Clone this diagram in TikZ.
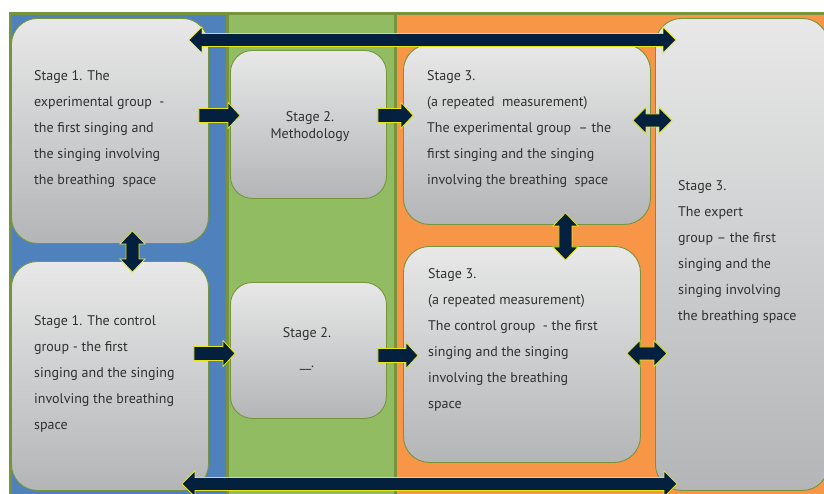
\documentclass[tikz,border=0pt]{standalone}
\usepackage{fontspec}
\setmainfont{PT Sans}
\usetikzlibrary{calc}
\definecolor{colblue}{HTML}{4F81BD}
\definecolor{colgreen}{HTML}{92BC62}
\definecolor{colorange}{HTML}{F79646}
\definecolor{frame}{HTML}{77933C}
\definecolor{boxtop}{HTML}{E8E8E8}
\definecolor{boxbot}{HTML}{B3B5B7}
\definecolor{navy}{HTML}{04203F}
\definecolor{rim}{HTML}{E6E619}
\definecolor{ink}{HTML}{303030}
\tikzset{
  box/.style={rounded corners=26pt, draw=frame, line width=0.9pt,
    top color=boxtop, bottom color=boxbot, anchor=north west, inner sep=0pt},
  txt/.style={text=ink, font=\fontsize{14}{26}\selectfont, align=left, inner sep=0pt},
  blk/.style={fill=navy, draw=rim, line width=0.8pt, line join=miter},
  harr/.style={blk, to path={let \p1=(\tikztostart), \p2=(\tikztotarget) in
    (\x1,\y1) -- (\x1+13pt,\y1+13pt) -- (\x1+13pt,\y1+6.5pt) -- (\x2-13pt,\y1+6.5pt)
    -- (\x2-13pt,\y1+13pt) -- (\x2,\y1) -- (\x2-13pt,\y1-13pt) -- (\x2-13pt,\y1-6.5pt)
    -- (\x1+13pt,\y1-6.5pt) -- (\x1+13pt,\y1-13pt) -- cycle}},
  varr/.style={blk, to path={let \p1=(\tikztostart), \p2=(\tikztotarget) in
    (\x1,\y1) -- (\x1+12.5pt,\y1-13pt) -- (\x1+6.5pt,\y1-13pt) -- (\x1+6.5pt,\y2+13pt)
    -- (\x1+12.5pt,\y2+13pt) -- (\x1,\y2) -- (\x1-12.5pt,\y2+13pt) -- (\x1-6.5pt,\y2+13pt)
    -- (\x1-6.5pt,\y1-13pt) -- (\x1-12.5pt,\y1-13pt) -- cycle}},
  rarr/.style={blk, to path={let \p1=(\tikztostart), \p2=(\tikztotarget) in
    (\x1,\y1+7pt) -- (\x2-12pt,\y1+7pt) -- (\x2-12pt,\y1+13pt) -- (\x2,\y1)
    -- (\x2-12pt,\y1-13pt) -- (\x2-12pt,\y1-7pt) -- (\x1,\y1-7pt) -- cycle}}
}
\begin{document}
\begin{tikzpicture}[x=1pt,y=-1pt]
\useasboundingbox (0,0) rectangle (824,493);
% column backgrounds
\fill[white] (0,0) rectangle (824,493);
\fill[colblue] (10,13.5) rectangle (227.5,500);
\fill[colgreen] (227.5,13.5) rectangle (395.5,500);
\fill[colorange] (395.5,13.5) rectangle (840,500);
\draw[frame, line width=3pt] (10,500) -- (10,13.5) -- (840,13.5);
\draw[frame, line width=2.5pt] (227.5,13.5) -- (227.5,500);
\draw[frame, line width=3pt] (395.5,13.5) -- (395.5,500);

% stage boxes
\node[box, minimum width=197pt, minimum height=225pt] (A) at (11,18) {};
\node[box, minimum width=197pt, minimum height=229pt] (B) at (11,261) {};
\node[box, minimum width=156pt, minimum height=148pt, rounded corners=22pt] (C) at (230,50) {};
\node[box, minimum width=156pt, minimum height=136pt, rounded corners=22pt] (D) at (230,282) {};
\node[box, minimum width=247pt, minimum height=180pt] (E) at (403,44) {};
\node[box, minimum width=237pt, minimum height=216pt] (F) at (403,246) {};
\node[box, minimum width=173pt, minimum height=472pt] (G) at (655,18) {};

% box texts
\node[txt, anchor=west] (At) at (34,129) {Stage 1. The\\experimental group~ -\\the first singing and\\the singing involving\\the breathing\ \ space};
\node[txt, anchor=west] (Bt) at (34,374) {Stage 1. The control\\group - the first\\singing and the singing\\involving the breathing\\space};
\node[txt, align=center, font=\fontsize{14}{17}\selectfont] (Ct) at (310,126.5) {Stage 2.\\Methodology};
\node[txt, align=center, font=\fontsize{14}{30}\selectfont] (Dt) at (307,349) {Stage 2.\\\_\_.};
\node[txt, anchor=west] (Et) at (427,128.5) {Stage 3.\\(a repeated\ \ measurement)\\The experimental group\ \ -- the\\first singing and the singing\\involving the breathing\ \ space};
\node[txt, anchor=west] (Ft) at (428,339.5) {Stage 3.\\(a repeated measurement)\\The control group\ \ - the first\\singing and the singing\\involving the breathing\\space};
\node[txt, anchor=west] (Gt) at (678,251.5) {Stage 3.\\The expert\\group -- the first\\singing and the\\singing involving\\the breathing space};

% connectors
\path[harr] ([shift={(-20,22)}]A.north east) to ([shift={(21,22)}]G.north west);
\path[harr] ([shift={(-27,-7)}]B.south east) to ([shift={(22,-7)}]G.south west);
\path[rarr] ([shift={(-10,-15.5)}]A.east) to ([shift={(10,-9)}]C.west);
\path[rarr] ([shift={(-9,-9)}]C.east) to ([shift={(10,-19)}]E.west);
\path[rarr] ([shift={(-15,-22.5)}]B.east) to ([shift={(5,3)}]D.west);
\path[rarr] ([shift={(-9,5)}]D.east) to ([shift={(15,1)}]F.west);
\path[varr] ([shift={(22.5,-13)}]A.south) to ([shift={(22.5,11)}]B.north);
\path[varr] ([shift={(38.5,-12)}]E.south) to ([shift={(43.5,14)}]F.north);
\path[harr] ([shift={(-18,-14)}]E.east) to ([shift={(17,-134)}]G.west);
\path[harr] ([shift={(-14,-1)}]F.east) to ([shift={(12,99)}]G.west);
\end{tikzpicture}
\end{document}
